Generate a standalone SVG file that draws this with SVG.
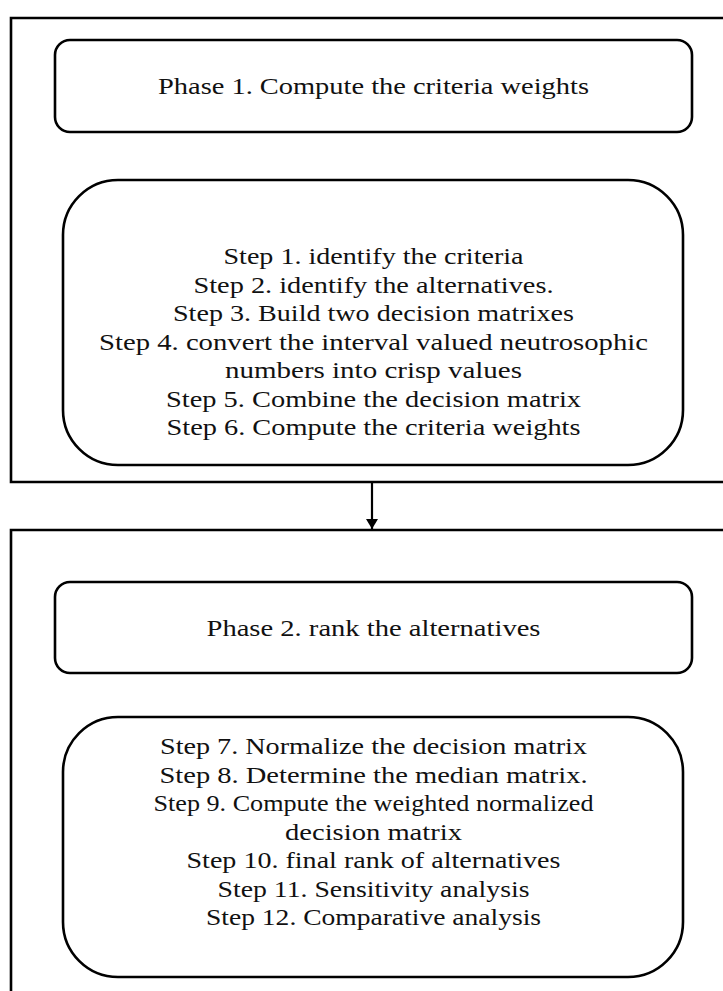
<svg xmlns="http://www.w3.org/2000/svg" width="723" height="991" viewBox="0 0 723 991">
<defs>
<style>
.frame{fill:none;stroke:#000;stroke-width:2.6}
.box{fill:#fff;stroke:#000;stroke-width:2.6}
.t{font-family:"Liberation Serif","Times New Roman",serif;font-size:24px;fill:#111;text-anchor:middle}
.conn{stroke:#000;stroke-width:2.2;fill:none}
</style>
<marker id="arr" viewBox="0 0 10 12" refX="10" refY="6" markerWidth="10" markerHeight="12" markerUnits="userSpaceOnUse" orient="auto">
<path d="M0,0 L10,6 L0,12 z" fill="#000"/>
</marker>
</defs>
<rect width="723" height="991" fill="#fff"/>
<g id="phase1-frame">
<path class="frame" d="M726,18 H11 V482 H726"/>
</g>
<g id="phase1-title">
<rect class="box" x="55" y="40" width="637" height="92" rx="15"/>
<text class="t" x="373.5" y="94" textLength="431" lengthAdjust="spacingAndGlyphs">Phase 1. Compute the criteria weights</text>
</g>
<g id="phase1-steps">
<rect class="box" x="63" y="180" width="620" height="285" rx="55"/>
<text class="t" x="373.5" y="264" textLength="300" lengthAdjust="spacingAndGlyphs">Step 1. identify the criteria</text>
<text class="t" x="373.5" y="292.5" textLength="360" lengthAdjust="spacingAndGlyphs">Step 2. identify the alternatives.</text>
<text class="t" x="373.5" y="321" textLength="401" lengthAdjust="spacingAndGlyphs">Step 3. Build two decision matrixes</text>
<text class="t" x="373.5" y="349.5" textLength="549" lengthAdjust="spacingAndGlyphs">Step 4. convert the interval valued neutrosophic</text>
<text class="t" x="373.5" y="378" textLength="297" lengthAdjust="spacingAndGlyphs">numbers into crisp values</text>
<text class="t" x="373.5" y="406.5" textLength="415" lengthAdjust="spacingAndGlyphs">Step 5. Combine the decision matrix</text>
<text class="t" x="373.5" y="435" textLength="414" lengthAdjust="spacingAndGlyphs">Step 6. Compute the criteria weights</text>
</g>
<g id="phase2-frame">
<path class="frame" d="M11,995 V530 H726"/>
</g>
<g id="phase2-title">
<rect class="box" x="55" y="582" width="637" height="91" rx="15"/>
<text class="t" x="373.5" y="636" textLength="334" lengthAdjust="spacingAndGlyphs">Phase 2. rank the alternatives</text>
</g>
<g id="phase2-steps">
<rect class="box" x="63" y="717" width="620" height="260" rx="55"/>
<text class="t" x="373.5" y="754" textLength="427" lengthAdjust="spacingAndGlyphs">Step 7. Normalize the decision matrix</text>
<text class="t" x="373.5" y="782.5" textLength="428" lengthAdjust="spacingAndGlyphs">Step 8. Determine the median matrix.</text>
<text class="t" x="373.5" y="811" textLength="440" lengthAdjust="spacingAndGlyphs">Step 9. Compute the weighted normalized</text>
<text class="t" x="373.5" y="839.5" textLength="177" lengthAdjust="spacingAndGlyphs">decision matrix</text>
<text class="t" x="373.5" y="868" textLength="374" lengthAdjust="spacingAndGlyphs">Step 10. final rank of alternatives</text>
<text class="t" x="373.5" y="896.5" textLength="312" lengthAdjust="spacingAndGlyphs">Step 11. Sensitivity analysis</text>
<text class="t" x="373.5" y="925" textLength="335" lengthAdjust="spacingAndGlyphs">Step 12. Comparative analysis</text>
</g>
<g id="connectors">
<line class="conn" x1="372" y1="483" x2="372" y2="529" marker-end="url(#arr)"/>
</g>
</svg>
